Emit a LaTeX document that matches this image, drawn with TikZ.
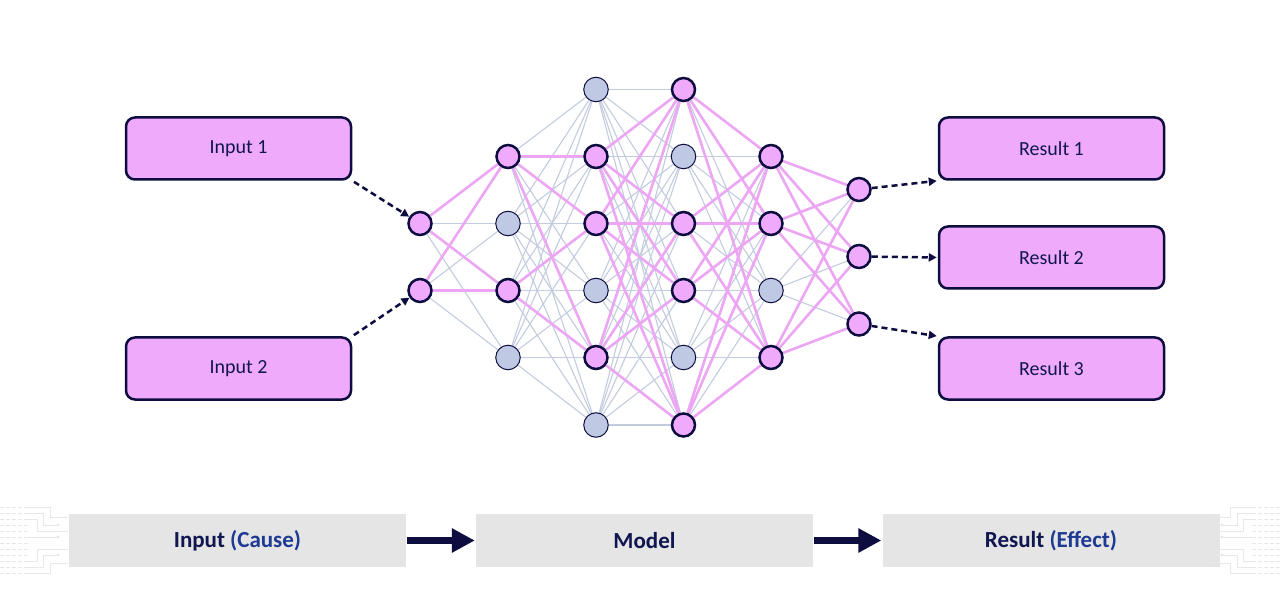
\documentclass[tikz,border=0pt]{standalone}
\usepackage{fontspec}
\setmainfont{Carlito}
\usetikzlibrary{arrows.meta,backgrounds}
\definecolor{navy}{HTML}{0D0D40}
\definecolor{navytext}{HTML}{101650}
\definecolor{bluetext}{HTML}{1F3A93}
\definecolor{pinkfill}{HTML}{F0AAFC}
\definecolor{grayfill}{HTML}{BFC9E4}
\definecolor{grayedge}{HTML}{C3CCDF}
\definecolor{pinkedge}{HTML}{ECA6F4}
\definecolor{barfill}{HTML}{E5E5E5}
\definecolor{circ}{HTML}{E8E8E8}
\newcommand\circuitdeco{%
  \foreach \yy in {507,513,519,525,531,537,543,549,555,561,567,573}
    \draw[circuitdash] (0,\yy) -- (28,\yy);
  \draw[circuitline] (28,507) -- (50,507) -- (50,517) -- (68,517);
  \draw[circuitline] (28,513) -- (43,513) -- (43,525) -- (58,525);
  \fill[circ] (58,525) circle (1.6);
  \draw[circuitline] (28,519) -- (37,519) -- (37,531) -- (68,531);
  \draw[circuitline] (28,537) -- (58,537);
  \fill[circ] (58,537) circle (1.6);
  \draw[circuitline] (28,561) -- (37,561) -- (37,549) -- (68,549);
  \draw[circuitline] (28,567) -- (43,567) -- (43,555) -- (58,555);
  \fill[circ] (58,555) circle (1.6);
  \draw[circuitline] (28,573) -- (50,573) -- (50,563) -- (68,563);
}
\begin{document}
\begin{tikzpicture}[x=1pt,y=-1pt,
  pnode/.style={circle,minimum size=23pt,inner sep=0pt,fill=pinkfill,draw=navy,line width=2.5pt},
  gnode/.style={circle,minimum size=24.5pt,inner sep=0pt,fill=grayfill,draw=navy,line width=1pt},
  gedge/.style={draw=grayedge,line width=1.1pt},
  pedge/.style={draw=pinkedge,line width=2.6pt},
  bigbox/.style={rectangle,rounded corners=9pt,draw=navy,line width=2.5pt,fill=pinkfill,
    minimum width=225pt,minimum height=62pt,text=navytext,font=\fontsize{20}{24}\selectfont},
  darr/.style={draw=navy,line width=2.5pt,dash pattern=on 6pt off 4pt,
    -{Triangle[length=8pt,width=8pt]}},
  barbox/.style={rectangle,fill=barfill,minimum width=337pt,minimum height=53pt,inner sep=0pt,
    text=navytext,font=\fontsize{23}{28}\selectfont\bfseries},
  bigarr/.style={draw=navy,line width=7pt,-{Triangle[length=23pt,width=23pt]}},
  circuitdash/.style={draw=circ,line width=0.8pt,dash pattern=on 4pt off 2pt},
  circuitline/.style={draw=circ,line width=0.8pt}]
\useasboundingbox (0,0) rectangle (1280,612);

% network nodes
\foreach \y/\t [count=\j] in {223.5/pnode,290.5/pnode}
  \node[\t] (L0-\j) at (420,\y) {};
\foreach \y/\t [count=\j] in {156.5/pnode,223.5/gnode,290.5/pnode,357.5/gnode}
  \node[\t] (L1-\j) at (508,\y) {};
\foreach \y/\t [count=\j] in {89.5/gnode,156.5/pnode,223.5/pnode,290.5/gnode,357.5/pnode,425/gnode}
  \node[\t] (L2-\j) at (596,\y) {};
\foreach \y/\t [count=\j] in {89.5/pnode,156.5/gnode,223.5/pnode,290.5/pnode,357.5/gnode,425/pnode}
  \node[\t] (L3-\j) at (683.5,\y) {};
\foreach \y/\t [count=\j] in {156.5/pnode,223.5/pnode,290.5/gnode,357.5/pnode}
  \node[\t] (L4-\j) at (771,\y) {};
\foreach \y/\t [count=\j] in {189.5/pnode,256.5/pnode,324/pnode}
  \node[\t] (L5-\j) at (859,\y) {};

\begin{scope}[on background layer]
  \fill[white] (0,0) rectangle (1280,612);
  \foreach \a/\na/\b/\nb in {0/2/1/4,1/4/2/6,2/6/3/6,3/6/4/4,4/4/5/3}
    \foreach \i in {1,...,\na}
      \foreach \k in {1,...,\nb}
        \draw[gedge] (L\a-\i) -- (L\b-\k);
  \foreach \s/\e in {0-1/1-1,0-1/1-3,0-2/1-1,0-2/1-3,1-1/2-2,1-1/2-3,1-1/2-5,1-3/2-3,1-3/2-5}
    \draw[pedge] (L\s) -- (L\e);
  \foreach \i in {2,3,5}
    \foreach \k in {1,3,4,6}
      \draw[pedge] (L2-\i) -- (L3-\k);
  \foreach \i in {1,3,4,6}
    \foreach \k in {1,2,4}
      \draw[pedge] (L3-\i) -- (L4-\k);
  \foreach \i in {1,2,4}
    \foreach \k in {1,2,3}
      \draw[pedge] (L4-\i) -- (L5-\k);
\end{scope}

% input / result boxes
\node[bigbox] (in1) at (238.5,148.5) {Input 1};
\node[bigbox] (in2) at (238.5,368.5) {Input 2};
\node[bigbox] (r1) at (1051.5,148.5) {Result 1};
\node[bigbox] (r2) at (1051.5,257.5) {Result 2};
\node[bigbox] (r3) at (1051.5,368.5) {Result 3};

\draw[darr,shorten <=2pt] (in1.south east) -- (L0-1);
\draw[darr,shorten <=2pt] (in2.north east) -- (L0-2);
\draw[darr,shorten >=1pt] (L5-1) -- (r1.south west);
\draw[darr,shorten >=1pt] (L5-2) -- (r2.west);
\draw[darr,shorten >=1pt] (L5-3) -- (r3.north west);

% bottom bar
\node[barbox] (b1) at (237.5,540.5) {Input \textcolor{bluetext}{(Cause)}};
\node[barbox] (b2) at (644.5,540.5) {Model};
\node[barbox] (b3) at (1051,540.5) {Result \textcolor{bluetext}{(Effect)}};
\draw[bigarr,shorten <=1pt,shorten >=1pt] (b1.east) -- (b2.west);
\draw[bigarr,shorten <=1pt,shorten >=1pt] (b2.east) -- (b3.west);

\begin{scope}
  \circuitdeco
\end{scope}
\begin{scope}[shift={(1280,0)},xscale=-1]
  \circuitdeco
\end{scope}
\end{tikzpicture}
\end{document}
